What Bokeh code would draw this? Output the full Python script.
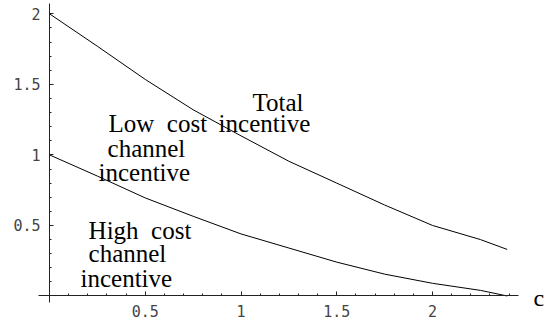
from bokeh.plotting import figure
from bokeh.models import FixedTicker, Range1d
from bokeh.core.properties import value
from bokeh.embed import file_html
from bokeh.resources import INLINE

# ---- data ----
c_values = [0.0, 0.25, 0.5, 0.75, 1.0, 1.25, 1.5, 1.75, 2.0, 2.25, 2.39]
total_incentive = [2.0, 1.77, 1.535, 1.32, 1.135, 0.955, 0.80, 0.645, 0.50, 0.40, 0.33]
high_cost_incentive = [1.0, 0.85, 0.695, 0.565, 0.44, 0.34, 0.24, 0.155, 0.09, 0.04, 0.0]

x_ticks = [0.5, 1.0, 1.5, 2.0]
x_tick_labels = ["0.5", "1", "1.5", "2"]
y_ticks = [0.5, 1.0, 1.5, 2.0]
y_tick_labels = ["0.5", "1", "1.5", "2"]
x_minor_ticks = [0.1, 0.2, 0.3, 0.4, 0.6, 0.7, 0.8, 0.9, 1.1, 1.2, 1.3, 1.4,
                 1.6, 1.7, 1.8, 1.9, 2.1, 2.2, 2.3, 2.4]
y_minor_ticks = [0.1, 0.2, 0.3, 0.4, 0.6, 0.7, 0.8, 0.9, 1.1, 1.2, 1.3, 1.4,
                 1.6, 1.7, 1.8, 1.9]

label_texts = ["High\u00a0\u00a0cost", "channel", "incentive",
               "Low\u00a0\u00a0cost", "channel", "incentive",
               "Total", "incentive"]
axis_label = "c"

# ---- figure ----
p = figure(width=552, height=324, output_backend="svg", toolbar_location=None,
           x_range=Range1d(-0.2559, 2.6266), y_range=Range1d(-0.2020, 2.0943),
           min_border=0, min_border_left=0, min_border_right=0,
           min_border_top=0, min_border_bottom=0)
p.outline_line_color = None
p.xgrid.visible = False
p.ygrid.visible = False
p.background_fill_color = "white"
p.border_fill_color = "white"

for ax, ticks, labels, minor, bounds in (
        (p.xaxis[0], x_ticks, x_tick_labels, x_minor_ticks, (-0.057, 2.449)),
        (p.yaxis[0], y_ticks, y_tick_labels, y_minor_ticks, (-0.046, 2.07))):
    ax.fixed_location = 0
    ax.bounds = bounds
    ax.ticker = FixedTicker(ticks=ticks, minor_ticks=minor)
    ax.major_label_overrides = {t: l for t, l in zip(ticks, labels)}
    ax.axis_line_color = "#222222"
    ax.axis_line_width = 1
    ax.major_tick_in = 4
    ax.major_tick_out = 0
    ax.minor_tick_in = 2
    ax.minor_tick_out = 0
    ax.major_tick_line_color = "#222222"
    ax.minor_tick_line_color = "#222222"
    ax.major_label_text_font = "DejaVu Sans Mono"
    ax.major_label_text_font_size = "15px"
    ax.major_label_text_color = "#444444"
    ax.major_label_standoff = 9

p.line(c_values, total_incentive, line_color="black", line_width=1)
p.line(c_values, high_cost_incentive, line_color="black", line_width=1)

# annotation positions (in data units)
lx = [0.204, 0.204, 0.162, 0.308, 0.303, 0.256, 1.060, 0.883]
ly = [0.464, 0.301, 0.124, 1.222, 1.045, 0.878, 1.371, 1.222]
p.text(x=lx, y=ly, text=label_texts, text_font=value("Liberation Serif"),
       text_font_size="25px", text_align="left", text_baseline="alphabetic",
       text_color="black")
p.text(x=[2.527], y=[-0.011], text=[axis_label], text_font=value("Liberation Serif"),
       text_font_size="24px", text_align="left", text_baseline="alphabetic",
       text_color="black")

open("out.html", "w").write(file_html(p, INLINE))
